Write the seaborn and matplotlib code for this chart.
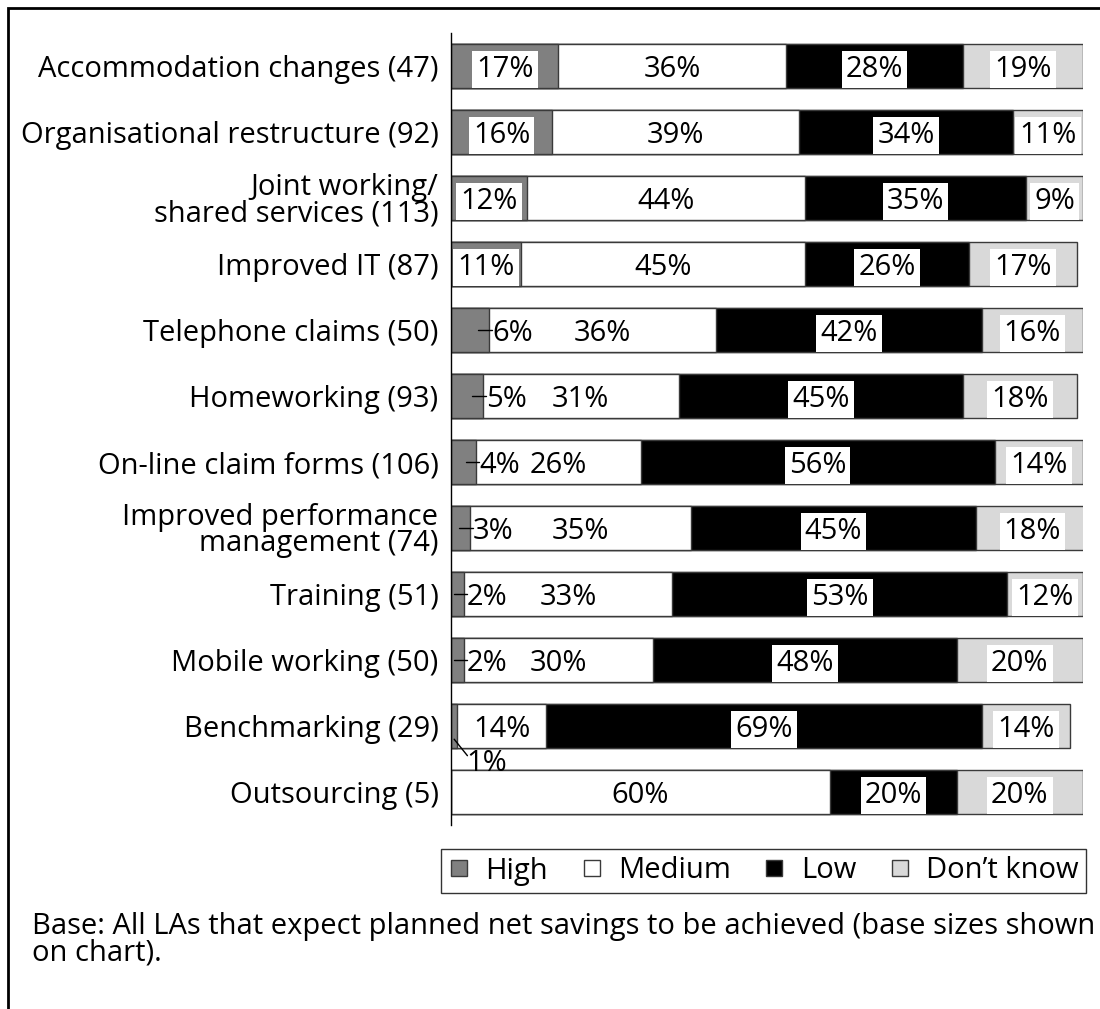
import matplotlib
matplotlib.use("Agg")
import matplotlib.pyplot as plt
from matplotlib.lines import Line2D
from matplotlib.patches import Rectangle
import pandas as pd
import seaborn as sns

# data
categories = [
    "Accommodation changes (47)",
    "Organisational restructure (92)",
    "Joint working/\nshared services (113)",
    "Improved IT (87)",
    "Telephone claims (50)",
    "Homeworking (93)",
    "On-line claim forms (106)",
    "Improved performance\nmanagement (74)",
    "Training (51)",
    "Mobile working (50)",
    "Benchmarking (29)",
    "Outsourcing (5)",
]
high = [17, 16, 12, 11, 6, 5, 4, 3, 2, 2, 1, 0]
medium = [36, 39, 44, 45, 36, 31, 26, 35, 33, 30, 14, 60]
low = [28, 34, 35, 26, 42, 45, 56, 45, 53, 48, 69, 20]
dont_know = [19, 11, 9, 17, 16, 18, 14, 18, 12, 20, 14, 20]

series_names = ["High", "Medium", "Low", "Don\u2019t know"]
colors = ["#808080", "#ffffff", "#000000", "#d9d9d9"]
EDGE = "#3a3a3a"
FS = 21

sns.set_style("white")
plt.rcParams["font.family"] = ["Open Sans", "DejaVu Sans"]
plt.rcParams["text.color"] = "black"
plt.rcParams["ytick.labelcolor"] = "black"

df = pd.DataFrame({"cat": categories, "High": high, "Medium": medium,
                   "Low": low, "DK": dont_know})
df["c1"] = df["High"]
df["c2"] = df["c1"] + df["Medium"]
df["c3"] = df["c2"] + df["Low"]
df["c4"] = df["c3"] + df["DK"]

fig = plt.figure(figsize=(11, 10.09), dpi=100)
ax = fig.add_axes([451 / 1100, 1 - 825 / 1009, (1083 - 451) / 1100, (825 - 33) / 1009])

# stacked look: draw cumulative bars from the largest down
for col, c in zip(["c4", "c3", "c2", "c1"], colors[::-1]):
    sns.barplot(data=df, x=col, y="cat", orient="h", color=c, saturation=1,
                edgecolor=EDGE, linewidth=1, width=0.66, ax=ax)

n = len(categories)
ax.set_xlim(0, 100)
ax.set_ylim(n - 0.5, -0.5)
ax.set_xlabel("")
ax.set_ylabel("")
ax.set_xticks([])
for s in ["top", "right", "bottom"]:
    ax.spines[s].set_visible(False)
ax.spines["left"].set_color("black")
ax.spines["left"].set_linewidth(1)
ax.set_yticks(range(n))
ax.set_yticklabels(categories, fontsize=FS, linespacing=0.9)
ax.set_yticks([i - 0.5 for i in range(n + 1)], minor=True)
ax.tick_params(axis="y", which="major", length=0, pad=9)
ax.tick_params(axis="y", which="minor", length=6, width=1, color="black", direction="out")

box = dict(facecolor="white", edgecolor="none", pad=3)
VA = "center_baseline"
for i, row in df.iterrows():
    h = row["High"]
    if h >= 9:
        ax.text(h / 2, i, f"{h}%", ha="center", va=VA, fontsize=FS, bbox=box)
    elif h >= 2:
        ax.plot([max(h - 1.7, 0.5), h + 0.5], [i, i], color="black", lw=1)
        ax.text(h + 0.5, i, f"{h}%", ha="left", va=VA, fontsize=FS)
    elif h == 1:
        ax.plot([0.5, 2.6], [i + 0.2, i + 0.45], color="black", lw=1, clip_on=False)
        ax.text(2.5, i + 0.52, f"{h}%", ha="left", va=VA, fontsize=FS)
    ax.text(row["c1"] + row["Medium"] / 2, i, f"{row['Medium']}%", ha="center",
            va=VA, fontsize=FS)
    ax.text(row["c2"] + row["Low"] / 2, i, f"{row['Low']}%", ha="center",
            va=VA, fontsize=FS, bbox=box)
    ax.text(row["c3"] + row["DK"] / 2, i, f"{row['DK']}%", ha="center",
            va=VA, fontsize=FS, bbox=box)

handles = [Line2D([], [], marker="s", ls="none", markersize=11, markerfacecolor=c,
                  markeredgecolor=EDGE, markeredgewidth=1) for c in colors]
leg = fig.legend(handles, series_names, loc="center right", ncol=4,
                 bbox_to_anchor=(1086 / 1100, 1 - 871 / 1009), fontsize=FS,
                 frameon=True, fancybox=False, handlelength=0.7, handletextpad=0.55,
                 columnspacing=1.15, borderpad=0.25, borderaxespad=0)
leg.get_frame().set_edgecolor("black")
leg.get_frame().set_linewidth(1)

fig.text(32 / 1100, 1 - 912 / 1009,
         "Base: All LAs that expect planned net savings to be achieved (base sizes shown\non chart).",
         ha="left", va="top", fontsize=FS, linespacing=0.9)

# outer frame of the exhibit
fig.add_artist(Rectangle((8 / 1100, -0.1), 1.2, 1.1 - 8 / 1009, transform=fig.transFigure,
                         fill=False, edgecolor="black", linewidth=2))

fig.savefig("out.png", dpi=100)
